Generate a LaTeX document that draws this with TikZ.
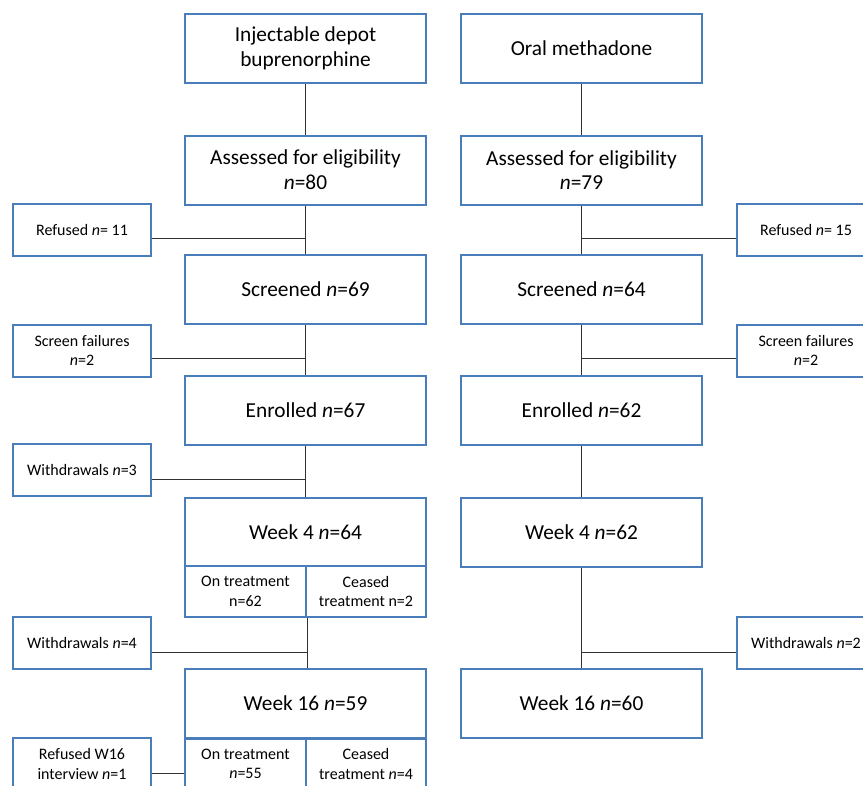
\documentclass[tikz,border=0pt]{standalone}
\usepackage{fontspec}
\setmainfont{Carlito}
\definecolor{boxblue}{RGB}{74,126,187}
\definecolor{connc}{RGB}{50,50,50}
\begin{document}
\begin{tikzpicture}[x=0.75pt,y=-0.75pt,
  box/.style={draw=boxblue,line width=1.5pt,fill=white,align=center,inner sep=0pt},
  big/.style={box,minimum width=180.75pt,minimum height=51.75pt,font=\fontsize{16}{18.5}\selectfont},
  side/.style={box,minimum width=103.5pt,minimum height=39pt,font=\fontsize{12}{14.5}\selectfont},
  subl/.style={box,minimum width=90.75pt,minimum height=38.25pt,font=\fontsize{12}{14.5}\selectfont},
  subr/.style={box,minimum width=90pt,minimum height=38.25pt,font=\fontsize{12}{14.5}\selectfont},
  conn/.style={draw=connc,line width=0.75pt}]
\clip (0,0) rectangle (863,785);
\fill[white] (0,0) rectangle (863,785);
% main boxes
\node[big] (topL) at (305.5,48.5) {Injectable depot\\buprenorphine};
\node[big] (topR) at (581.5,48.5) {Oral methadone};
\node[big] (assL) at (305.5,170) {Assessed for eligibility\\\textit{n}=80};
\node[big] (assR) at (581.5,170) {Assessed for eligibility\\\textit{n}=79};
\node[big] (scrL) at (305.5,289.5) {Screened \textit{n}=69};
\node[big] (scrR) at (581.5,289.5) {Screened \textit{n}=64};
\node[big] (enrL) at (305.5,410.5) {Enrolled \textit{n}=67};
\node[big] (enrR) at (581.5,410.5) {Enrolled \textit{n}=62};
\node[big] (wkfL) at (305.5,532) {Week 4 \textit{n}=64};
\node[big] (wkfR) at (581.5,532) {Week 4 \textit{n}=62};
\node[big] (wksL) at (305.5,703.5) {Week 16 \textit{n}=59};
\node[big] (wksR) at (581.5,703.5) {Week 16 \textit{n}=60};
% sub boxes
\node[subl] (onf) at (245.5,591.5) {On treatment\\n=62};
\node[subr] (cef) at (366,591.5) {Ceased\\treatment n=2};
\node[subl] (ons) at (245.5,764) {On treatment\\\textit{n}=55};
\node[subr] (ces) at (366,764) {Ceased\\treatment \textit{n}=4};
% side boxes
\node[side] (refL) at (82,230) {Refused \textit{n}= 11};
\node[side] (refR) at (806,230) {Refused \textit{n}= 15};
\node[side] (sfL) at (82,350.5) {Screen failures\\\textit{n}=2};
\node[side] (sfR) at (806,350.5) {Screen failures\\\textit{n}=2};
\node[side] (wdt) at (82,470) {Withdrawals \textit{n}=3};
\node[side] (wdf) at (82,642.5) {Withdrawals \textit{n}=4};
\node[side] (wdr) at (806,643) {Withdrawals \textit{n}=2};
\node[side] (refW) at (82,764) {Refused W16\\interview \textit{n}=1};
% connectors left
\draw[conn] (topL) -- (assL);
\draw[conn] (assL) -- (scrL);
\draw[conn] (scrL) -- (enrL);
\draw[conn] (enrL) -- (wkfL);
\draw[conn] (onf.south east) -- (onf.south east |- wksL.north);
\draw[conn] (refL.east |- 0,238) -- (assL.south |- 0,238);
\draw[conn] (sfL.east |- 0,358) -- (scrL.south |- 0,358);
\draw[conn] (wdt.east |- 0,479) -- (enrL.south |- 0,479);
\draw[conn] (wdf.east |- 0,652) -- (onf.south east |- 0,652);
\draw[conn] (refW.east |- 0,773) -- (ons.west |- 0,773);
% connectors right
\draw[conn] (topR) -- (assR);
\draw[conn] (assR) -- (scrR);
\draw[conn] (scrR) -- (enrR);
\draw[conn] (enrR) -- (wkfR);
\draw[conn] (wkfR) -- (wksR);
\draw[conn] (refR.west |- 0,238) -- (assR.south |- 0,238);
\draw[conn] (sfR.west |- 0,358) -- (scrR.south |- 0,358);
\draw[conn] (wdr.west |- 0,652) -- (wkfR.south |- 0,652);
\end{tikzpicture}
\end{document}
